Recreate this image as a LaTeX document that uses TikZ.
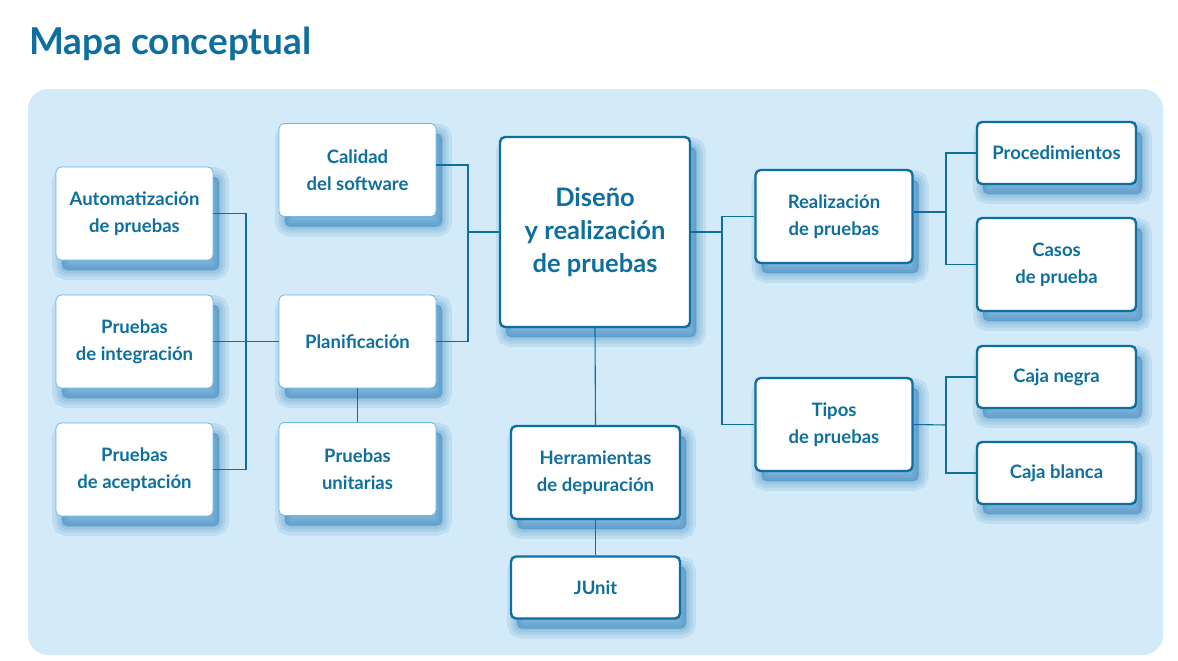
\documentclass[tikz,border=0pt]{standalone}
\usepackage{fontspec}
\setmainfont{Lato}
\usepackage{tikz}

\definecolor{mapblue}{HTML}{0E6F9E}
\definecolor{panel}{HTML}{D3EAF8}
\definecolor{thinedge}{HTML}{6DB8E0}
\definecolor{shade}{HTML}{2A80BC}

\begin{document}
\begin{tikzpicture}[
    x=1pt, y=-1pt,
    every node/.style={font=\bfseries\fontsize{18.5}{27}\selectfont, text=mapblue, align=center},
    sh/.style={preaction={draw=shade, fill=shade, line width=#1, draw opacity=0.12, fill opacity=0.14,
               transform canvas={xshift=6pt, yshift=-10pt}}},
    bx/.style={rectangle, rounded corners=5pt, fill=white, inner sep=2pt,
               minimum width=157pt, minimum height=93pt,
               sh=20pt, sh=13pt, sh=7pt, sh=2pt},
    bxl/.style={bx, draw=thinedge, line width=0.8pt},
    bxd/.style={bx, draw=mapblue, line width=2.4pt},
    low/.style={minimum height=62pt},
    ln/.style={draw=mapblue, line width=1.1pt},
  ]
  \useasboundingbox (0,0) rectangle (1178,661);
  \node[anchor=base west, font=\bfseries\fontsize{37}{40}\selectfont, inner sep=0pt] (title) at (29,55) {Mapa conceptual};
  \fill[panel] (28,89) [rounded corners=20pt] rectangle (1163,655);

  % left column
  \node[bxl] (auto) at (134.5,213.5) {Automatización\\de pruebas};
  \node[bxl] (integ) at (134.5,341.5) {Pruebas\\de integración};
  \node[bxl] (acep) at (134.5,469.5) {Pruebas\\de aceptación};
  \node[bxl] (cal) at (357.5,170) {Calidad\\del software};
  \node[bxl] (plan) at (357.5,341.5) {Planificación};
  \node[bxl] (unit) at (357.5,469) {Pruebas\\unitarias};

  % centre
  \node[bxd, minimum width=190pt, minimum height=190pt, font=\bfseries\fontsize{25.5}{33}\selectfont] (dis) at (595,232) {Diseño\\y realización\\de pruebas};
  \node[bxd, minimum width=169pt] (herr) at (595.5,472.5) {Herramientas\\de depuración};
  \node[bxd, low, minimum width=169pt] (junit) at (595.5,587.5) {JUnit};

  % right
  \node[bxd] (real) at (834,216.5) {Realización\\de pruebas};
  \node[bxd] (tipos) at (834,424.5) {Tipos\\de pruebas};
  \node[bxd, low, minimum width=159pt] (proc) at (1056.5,153) {Procedimientos};
  \node[bxd, minimum width=159pt] (casos) at (1056.5,264.5) {Casos\\de prueba};
  \node[bxd, low, minimum width=159pt] (negra) at (1056.5,377) {Caja negra};
  \node[bxd, low, minimum width=159pt] (blanca) at (1056.5,473) {Caja blanca};

  \coordinate (jl) at (246,341.5);
  \coordinate (jc) at (468,232);
  \coordinate (jr) at (722,232);
  \coordinate (jp) at (946,212);
  \coordinate (jt) at (946,425);

  \draw[ln] (auto.east) -| (jl) |- (acep.east);
  \draw[ln] (integ.east) -- (plan.west);
  \draw[ln] (plan.south) -- (unit.north);
  \draw[ln] ([yshift=5pt]cal.east) -| (jc) |- (plan.east);
  \draw[ln] (jc) -- (dis.west);
  \draw[ln] (dis.south) -- (herr.north);
  \draw[ln] (herr.south) -- (junit.north);
  \draw[ln] (dis.east) -- (jr);
  \draw[ln] (real.west) -| (jr) |- (tipos.west);
  \draw[ln] ([yshift=4.5pt]real.east) -- (jp);
  \draw[ln] (proc.west) -| (jp) |- (casos.west);
  \draw[ln] (tipos.east) -- (jt);
  \draw[ln] (negra.west) -| (jt) |- (blanca.west);
\end{tikzpicture}
\end{document}
